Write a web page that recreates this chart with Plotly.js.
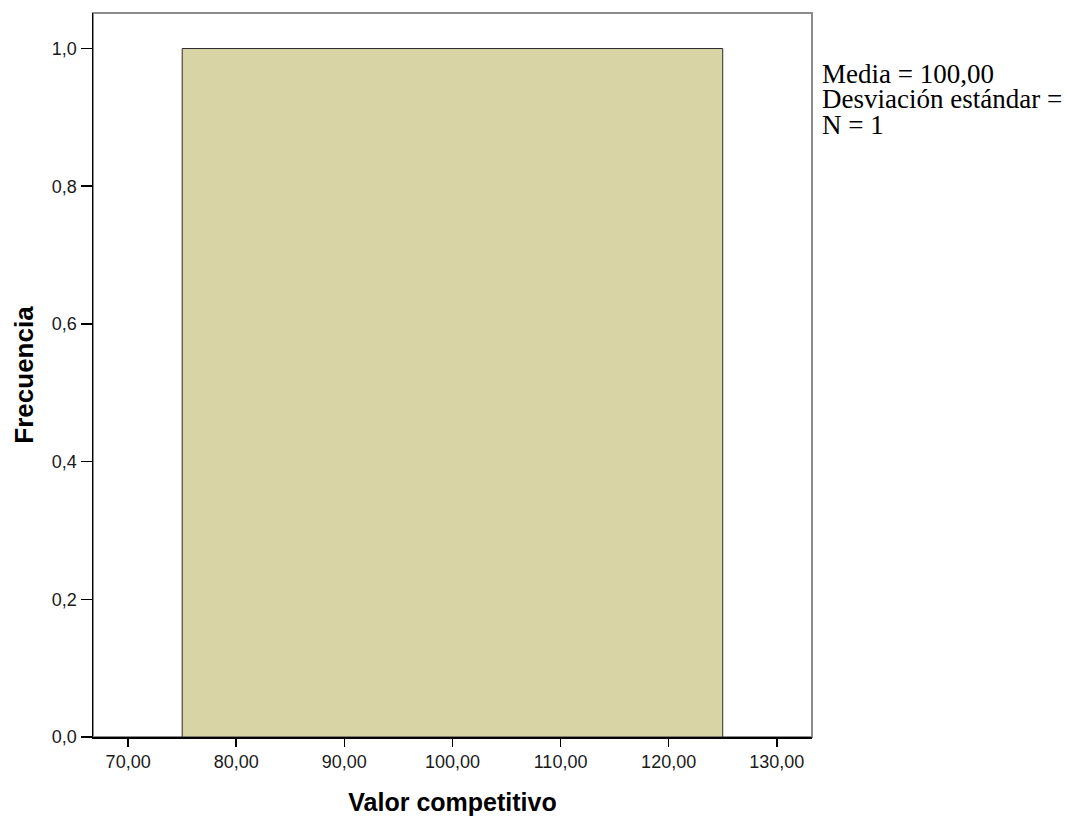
<!DOCTYPE html>
<html>
<head>
<meta charset="utf-8">
<script src="https://cdn.plot.ly/plotly-3.0.1.min.js"></script>
<style>html,body{margin:0;padding:0;background:#fff;}#chart{width:1067px;height:816px;}</style>
</head>
<body>
<div id="chart"></div>
<script>
// Data
const values = [100];
const binStart = 75;
const binEnd = 125;
const binSize = 50;
const xTickVals = [70, 80, 90, 100, 110, 120, 130];
const yTickVals = [0, 0.2, 0.4, 0.6, 0.8, 1.0];
const statsLines = ["Media = 100,00", "Desviación estándar =", "N = 1"];
const xLabel = "Valor competitivo";
const yLabel = "Frecuencia";

const trace = {
  type: 'histogram',
  x: values,
  xbins: {start: binStart, end: binEnd, size: binSize},
  marker: {color: '#d9d4a6', line: {color: '#2a2a2a', width: 1}},
  hoverinfo: 'skip'
};

const tickFont = {family: 'Liberation Sans, Arial, sans-serif', size: 18, color: '#1a1a1a'};
const xTitleFont = {family: 'Liberation Sans, Arial, sans-serif', size: 25, color: '#000', weight: 'bold'};
const yTitleFont = {family: 'Liberation Sans, Arial, sans-serif', size: 26, color: '#000', weight: 'bold'};

const statsY = [0.9162, 0.8812, 0.8453];
const annotations = statsLines.map((t, i) => ({
  xref: 'paper', yref: 'paper', x: 1.011, y: statsY[i],
  xanchor: 'left', yanchor: 'middle', align: 'left', showarrow: false,
  text: t,
  font: {family: 'Liberation Serif, Times New Roman, serif', size: 27, color: '#000'}
}));

const layout = {
  width: 1067, height: 816,
  margin: {l: 92.5, r: 255, t: 13, b: 79, pad: 0},
  paper_bgcolor: '#fff', plot_bgcolor: '#fff',
  showlegend: false,
  bargap: 0,
  separators: ',.',
  xaxis: {
    range: [66.75, 133.26],
    tickvals: xTickVals, tickformat: '.2f',
    ticks: 'outside', ticklen: 8, tickwidth: 1.5, tickcolor: '#000',
    showline: true, linecolor: '#000', linewidth: 1.5,
    showgrid: false, zeroline: false,
    tickfont: tickFont,
    title: {text: '<b>' + xLabel + '</b>', font: xTitleFont, standoff: 22}
  },
  yaxis: {
    range: [0, 1.0516],
    tickvals: yTickVals, tickformat: '.1f',
    ticks: 'outside', ticklen: 11, tickwidth: 1.5, tickcolor: '#000',
    showline: true, linecolor: '#000', linewidth: 1.5,
    showgrid: false, zeroline: false,
    tickfont: tickFont,
    title: {text: '<b>' + yLabel + '</b>', font: yTitleFont, standoff: 11}
  },
  shapes: [{
    type: 'rect', xref: 'paper', yref: 'paper', x0: 0, x1: 1, y0: 0, y1: 1,
    line: {color: '#8c8c8c', width: 2}, layer: 'below'
  }],
  annotations: annotations
};

Plotly.newPlot('chart', [trace], layout, {displayModeBar: false, staticPlot: true});
</script>
</body>
</html>
